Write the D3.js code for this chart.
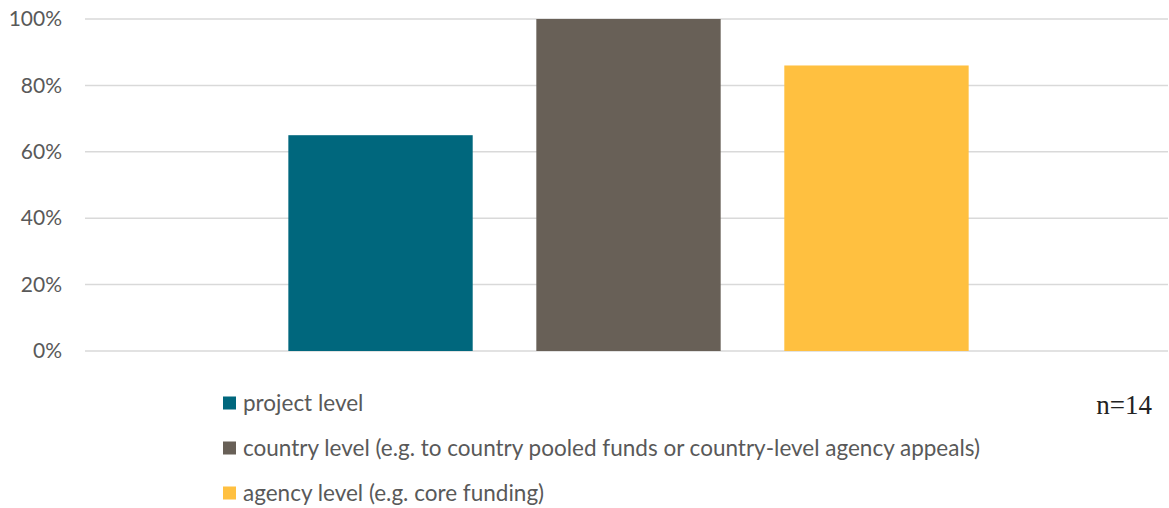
<!DOCTYPE html>
<html>
<head>
<meta charset="utf-8">
<script src="https://d3js.org/d3.v7.min.js"></script>
<style>
  html, body { margin: 0; padding: 0; background: #fff; }
  svg { display: block; }
  text { font-family: Lato, "Open Sans", sans-serif; }
</style>
</head>
<body>
<svg id="chart" width="1169" height="508"></svg>
<script>
// Share of respondents by funding level
const series = ["project level", "country level (e.g. to country pooled funds or country-level agency appeals)", "agency level (e.g. core funding)"];
const values = [0.65, 1.00, 0.86];
const colors = ["#00677d", "#686057", "#ffc040"];
const yTicks = [0, 0.2, 0.4, 0.6, 0.8, 1.0];
const note = "n=14";

const svg = d3.select("#chart");
const plot = { left: 85, right: 1168, top: 19, bottom: 351 };

const y = d3.scaleLinear().domain([0, 1]).range([plot.bottom, plot.top]);
const x = d3.scaleBand()
  .domain(series)
  .range([plot.left, 1172])
  .paddingInner(0.2566)
  .paddingOuter(0.82);

// gridlines
svg.append("g")
  .selectAll("line")
  .data(yTicks)
  .join("line")
  .attr("x1", plot.left).attr("x2", plot.right)
  .attr("y1", d => y(d)).attr("y2", d => y(d))
  .attr("stroke", "#d9d9d9").attr("stroke-width", 1.5);

// y axis labels
const yAxis = d3.axisLeft(y).tickValues(yTicks).tickFormat(d3.format(".0%")).tickSize(0).tickPadding(0);
const yg = svg.append("g").attr("transform", `translate(62,0)`).call(yAxis);
yg.select(".domain").remove();
yg.selectAll("text").attr("fill", "#595959").style("font-size", "21px").style("font-family", "Lato, sans-serif");

// bars
svg.append("g")
  .selectAll("rect")
  .data(series)
  .join("rect")
  .attr("x", d => x(d))
  .attr("width", x.bandwidth())
  .attr("y", (d, i) => y(values[i]))
  .attr("height", (d, i) => y(0) - y(values[i]))
  .attr("fill", (d, i) => colors[i]);

// legend
const legend = svg.append("g").attr("transform", "translate(223,0)");
const rowY = [403, 448, 493];
const items = legend.selectAll("g").data(series).join("g")
  .attr("transform", (d, i) => `translate(0,${rowY[i]})`);
items.append("rect")
  .attr("x", 0).attr("y", -6.5).attr("width", 13).attr("height", 13)
  .attr("fill", (d, i) => colors[i]);
items.append("text")
  .attr("x", 20).attr("y", 0).attr("dy", "0.35em")
  .attr("fill", "#595959").style("font-size", "22.5px")
  .text(d => d);

// sample size note
svg.append("text")
  .attr("x", 1152).attr("y", 414)
  .attr("text-anchor", "end")
  .attr("fill", "#222")
  .style("font-family", "'Liberation Serif', 'Times New Roman', serif")
  .style("font-size", "27px")
  .text(note);
</script>
</body>
</html>
